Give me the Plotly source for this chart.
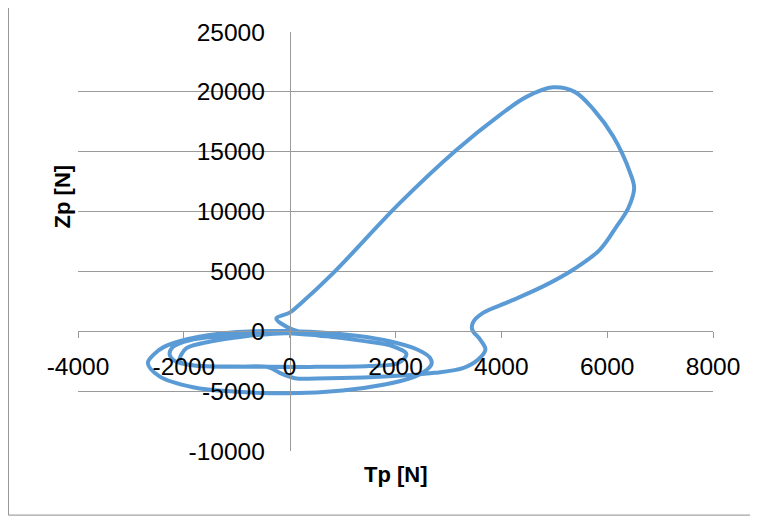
import plotly.graph_objects as go

# Tp [N] / Zp [N] trajectory (time ordered)
tp_inner = [-100, 600, 1380, 1950, 2206, 2050, 1500, 500, -380, -1000, -1800, -2142, -2268, -2205, -1890, -1266, -500]
zp_inner = [-150, -380, -800, -1250, -1900, -2650, -2900, -2970, -2970, -2950, -2850, -2553, -1942, -1300, -750, -400, -120]

tp_outer = [-200, 600, 1300, 1890, 2400, 2650, 2680, 2550, 2300, 1796, 1000, 0, -1000, -1826, -2466, -2680, -2560, -2374, -1918, -1096, -300]
zp_outer = [20, -100, -400, -830, -1500, -2200, -2750, -3350, -3900, -4450, -4950, -5180, -5050, -4680, -3750, -2650, -1900, -1300, -650, -100, 20]

tp_big = [473, 788, 1002, 788, 340, 0, -251, 0, 183, 822, 2079, 3151, 3970, 4474, 4978, 5388, 5753, 6119, 6438, 6510,
          6400, 6176, 5860, 5355, 4789, 4159, 3654, 3465, 3450, 3600, 3699, 3562, 3288, 2740, 2200, 1400, 500, 100, -189, -400]
zp_big = [-83, -200, -360, -442, -200, 250, 1083, 1558, 2222, 4861, 10700, 15142, 18058, 19583, 20380, 20000, 18472, 16250, 13194, 11950,
          10300, 8750, 6808, 5142, 3750, 2500, 1533, 750, 142, -700, -1528, -2361, -3056, -3472, -3680, -3870, -3940, -3920, -3470, -3000]

tp_end = [-1000, -1800, -2080, -2047, -1950, -1500, -900, -300, 200]
zp_end = [-2960, -2870, -2500, -1940, -1400, -850, -450, -200, -150]

tp = tp_inner + tp_outer + tp_big + tp_end
zp = zp_inner + zp_outer + zp_big + zp_end

x_ticks = [-4000, -2000, 0, 2000, 4000, 6000, 8000]
y_ticks = [-10000, -5000, 0, 5000, 10000, 15000, 20000, 25000]

FONT = "Liberation Sans"
GRID = "#9a9a9a"

fig = go.Figure()
fig.add_trace(go.Scatter(
    x=tp, y=zp, mode="lines",
    line=dict(color="#5B9BD5", width=4, shape="spline", smoothing=1.0),
    showlegend=False, hoverinfo="skip"))

fig.update_layout(
    width=758, height=518,
    margin=dict(l=70, r=53, t=24, b=75),
    paper_bgcolor="white", plot_bgcolor="white",
    font=dict(family=FONT, color="black"),
    xaxis=dict(range=[-4000, 8000], tickvals=x_ticks, ticktext=[str(v) for v in x_ticks],
               showgrid=False, zeroline=False, showline=True, linecolor=GRID, linewidth=1,
               anchor="free", position=10000 / 35000,
               ticks="outside", ticklen=6, tickcolor=GRID, tickwidth=1,
               tickfont=dict(size=24.5, family=FONT, color="black"), ticklabelstandoff=7),
    yaxis=dict(range=[-10000, 25000], tickvals=y_ticks, ticktext=[str(v) for v in y_ticks],
               showgrid=True, gridcolor=GRID, gridwidth=1, zeroline=False,
               showline=True, linecolor=GRID, linewidth=1,
               anchor="free", position=4000 / 12000, ticks="",
               tickfont=dict(size=24.5, family=FONT, color="black"), ticklabelstandoff=20),
    annotations=[
        dict(text="<b>Tp [N]</b>", xref="paper", yref="paper", x=0.5, y=-0.0556,
             showarrow=False, font=dict(size=22, family=FONT, color="black"),
             xanchor="center", yanchor="middle"),
        dict(text="<b>Zp [N]</b>", xref="paper", yref="paper", x=-0.024, y=0.607,
             showarrow=False, textangle=-90, font=dict(size=22, family=FONT, color="black"),
             xanchor="center", yanchor="middle"),
    ],
    shapes=[dict(type="rect", xref="paper", yref="paper",
                 x0=-0.1096, x1=1.061, y0=-0.153, y1=1.073,
                 line=dict(color="#8c8c8c", width=1), layer="below")],
)

fig.write_html("out.html")
